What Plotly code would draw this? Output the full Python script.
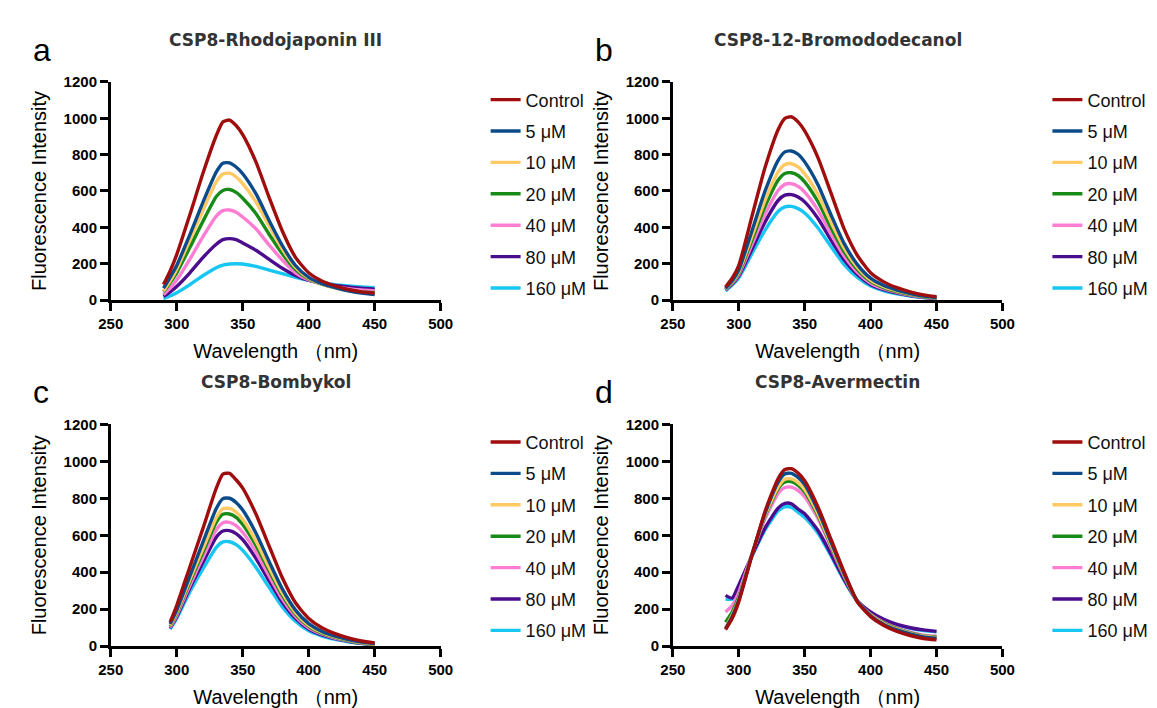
import plotly.graph_objects as go

# ---------------- data ----------------
series_names = ["Control", "5 μM", "10 μM", "20 μM", "40 μM", "80 μM", "160 μM"]
series_colors = ["#A00D0D", "#0B4B8A", "#FFC964", "#178A17", "#FF7ED4", "#4B0C8E", "#18C6F4"]

wavelength_abd = [290, 295, 300, 310, 320, 330, 335, 340, 345, 350, 360, 370, 380, 390, 400, 410, 420, 430, 440, 450]
wavelength_c = [295, 300, 310, 320, 330, 335, 340, 345, 350, 360, 370, 380, 390, 400, 410, 420, 430, 440, 450]

# Panel a: CSP8-Rhodojaponin III
a_control = [85, 160, 250, 470, 700, 905, 980, 990, 960, 910, 760, 565, 380, 235, 150, 105, 78, 58, 45, 38]
a_5uM = [65, 125, 190, 360, 540, 705, 753, 755, 732, 695, 585, 438, 300, 190, 125, 90, 68, 50, 38, 30]
a_10uM = [50, 105, 170, 330, 495, 650, 693, 698, 677, 640, 540, 408, 280, 180, 120, 88, 67, 52, 42, 35]
a_20uM = [45, 95, 150, 290, 435, 570, 603, 608, 592, 560, 476, 362, 255, 168, 115, 87, 68, 54, 45, 40]
a_40uM = [30, 65, 110, 225, 350, 462, 492, 495, 483, 457, 392, 303, 220, 150, 110, 88, 72, 62, 55, 50]
a_80uM = [20, 45, 75, 150, 235, 307, 332, 338, 332, 314, 274, 224, 175, 135, 108, 92, 80, 72, 65, 60]
a_160uM = [8, 22, 40, 85, 135, 178, 192, 198, 200, 198, 185, 165, 145, 125, 108, 95, 85, 78, 72, 68]

# Panel b: CSP8-12-Bromododecanol
b_control = [72, 120, 190, 460, 730, 940, 1000, 1008, 980, 930, 785, 588, 390, 245, 150, 100, 68, 45, 28, 18]
b_5uM = [65, 105, 165, 380, 600, 770, 815, 820, 802, 760, 636, 468, 310, 195, 120, 80, 55, 36, 22, 14]
b_10uM = [62, 100, 155, 350, 550, 705, 745, 750, 732, 695, 582, 428, 285, 180, 110, 73, 50, 33, 20, 12]
b_20uM = [60, 97, 148, 330, 515, 660, 696, 700, 685, 650, 542, 398, 265, 168, 103, 68, 46, 30, 18, 11]
b_40uM = [58, 93, 140, 305, 472, 604, 636, 640, 625, 594, 495, 363, 242, 153, 94, 62, 42, 27, 16, 10]
b_80uM = [56, 88, 132, 280, 430, 549, 577, 580, 567, 540, 450, 330, 220, 140, 86, 57, 38, 25, 15, 9]
b_160uM = [50, 82, 122, 255, 385, 488, 512, 515, 503, 479, 398, 294, 195, 124, 77, 51, 34, 22, 13, 8]

# Panel c: CSP8-Bombykol
c_control = [130, 220, 430, 640, 855, 930, 935, 900, 855, 715, 542, 370, 235, 150, 100, 68, 45, 28, 18]
c_5uM = [120, 195, 380, 565, 745, 798, 800, 777, 736, 612, 458, 310, 195, 122, 80, 54, 36, 22, 14]
c_10uM = [112, 185, 360, 530, 695, 743, 745, 725, 686, 569, 426, 288, 182, 113, 74, 50, 33, 20, 12]
c_20uM = [108, 178, 348, 510, 670, 713, 715, 697, 658, 545, 408, 275, 174, 108, 71, 48, 31, 19, 11]
c_40uM = [102, 168, 330, 482, 630, 668, 670, 652, 616, 509, 380, 256, 162, 100, 66, 44, 29, 17, 10]
c_80uM = [98, 160, 315, 455, 590, 623, 625, 609, 576, 475, 354, 238, 151, 93, 61, 41, 27, 16, 9]
c_160uM = [92, 150, 295, 420, 535, 564, 565, 549, 518, 427, 318, 213, 135, 83, 55, 37, 24, 14, 8]

# Panel d: CSP8-Avermectin
d_control = [90, 150, 240, 490, 730, 908, 955, 960, 936, 895, 755, 578, 400, 240, 160, 112, 80, 58, 42, 35]
d_5uM = [95, 160, 250, 495, 720, 888, 932, 935, 912, 874, 736, 563, 392, 242, 165, 118, 88, 66, 50, 43]
d_10uM = [100, 168, 255, 495, 710, 863, 903, 905, 885, 848, 718, 550, 386, 242, 168, 122, 92, 70, 54, 47]
d_20uM = [130, 185, 265, 495, 705, 853, 888, 890, 870, 834, 708, 543, 382, 242, 170, 125, 95, 72, 56, 50]
d_40uM = [185, 220, 290, 500, 690, 828, 858, 860, 842, 808, 692, 533, 376, 242, 172, 128, 98, 76, 60, 55]
d_80uM = [275, 260, 330, 490, 640, 748, 772, 770, 742, 716, 627, 498, 360, 245, 185, 145, 118, 100, 88, 80]
d_160uM = [255, 255, 325, 485, 630, 733, 754, 750, 725, 697, 612, 488, 355, 242, 182, 142, 115, 97, 85, 78]

panel_titles = ["CSP8-Rhodojaponin III", "CSP8-12-Bromododecanol", "CSP8-Bombykol", "CSP8-Avermectin"]
panel_letters = ["a", "b", "c", "d"]
x_ticks = [250, 300, 350, 400, 450, 500]
y_ticks = [0, 200, 400, 600, 800, 1000, 1200]

panels = [
    (wavelength_abd, [a_control, a_5uM, a_10uM, a_20uM, a_40uM, a_80uM, a_160uM]),
    (wavelength_abd, [b_control, b_5uM, b_10uM, b_20uM, b_40uM, b_80uM, b_160uM]),
    (wavelength_c, [c_control, c_5uM, c_10uM, c_20uM, c_40uM, c_80uM, c_160uM]),
    (wavelength_abd, [d_control, d_5uM, d_10uM, d_20uM, d_40uM, d_80uM, d_160uM]),
]

# ---------------- layout geometry (pixels) ----------------
W, H = 1157, 708
FONT = "Liberation Sans, Arial, sans-serif"
TITLE_FONT = "DejaVu Sans, Liberation Sans, Arial, sans-serif"
plot_x = [(91.8, 429.3), (666.8, 1004.0), (91.8, 429.3), (666.8, 1004.0)]
plot_y = [(66.5, 290.0), (66.5, 290.0), (417.3, 644.7), (417.3, 644.7)]

fig = go.Figure()

for p, (wl, ys) in enumerate(panels):
    ax = "" if p == 0 else str(p + 1)
    leg = "legend" if p == 0 else f"legend{p + 1}"
    # draw 160 µM first so Control ends up on top; legend order fixed by legendrank
    for i in reversed(range(len(series_names))):
        fig.add_trace(go.Scatter(
            x=wl, y=ys[i], mode="lines", name=series_names[i],
            line=dict(color=series_colors[i], width=3.4, shape="spline", smoothing=0.6),
            xaxis="x" + ax, yaxis="y" + ax, legend=leg,
            legendgroup=f"p{p}s{i}", legendrank=100 + i, showlegend=True,
        ))

layout = dict(
    width=W, height=H, margin=dict(l=0, r=0, t=0, b=0),
    paper_bgcolor="white", plot_bgcolor="white",
    font=dict(family=FONT, color="#111"),
    showlegend=True,
)

annotations = []
for p in range(4):
    ax = "" if p == 0 else str(p + 1)
    x0, x1 = plot_x[p]
    yt, yb = plot_y[p]
    layout["xaxis" + ax] = dict(
        domain=[x0 / W, x1 / W], anchor="y" + ax, range=[250, 500],
        tickvals=x_ticks, ticks="outside", ticklen=8, tickwidth=2.5, tickcolor="black",
        showline=True, linewidth=2.5, linecolor="black", showgrid=False, zeroline=False,
        tickfont=dict(family=FONT, size=15, color="black", weight="bold"),
        title=dict(text="Wavelength （nm)", font=dict(family=FONT, size=20, color="black"), standoff=14),
    )
    layout["yaxis" + ax] = dict(
        domain=[1 - yb / H, 1 - yt / H], anchor="x" + ax, range=[0, 1200],
        tickvals=y_ticks, ticks="outside", ticklen=8, tickwidth=2.5, tickcolor="black",
        showline=True, linewidth=2.5, linecolor="black", showgrid=False, zeroline=False,
        tickfont=dict(family=FONT, size=15, color="black", weight="bold"),
        title=dict(text="Fluorescence Intensity", font=dict(family=FONT, size=20, color="black"), standoff=12),
    )
    leg = "legend" if p == 0 else f"legend{p + 1}"
    layout[leg] = dict(
        x=(x1 + 46) / W, xanchor="left", y=1 - (yt - 0.5) / H, yanchor="top",
        traceorder="grouped", tracegroupgap=5, itemwidth=30,
        font=dict(family=FONT, size=18, color="#111"), bgcolor="rgba(0,0,0,0)",
    )
    annotations.append(dict(
        text=f"<b>{panel_titles[p]}</b>", x=(x0 + x1) / 2 / W, y=1 - (yt - 43) / H,
        xref="paper", yref="paper", xanchor="center", yanchor="middle", showarrow=False,
        font=dict(family=TITLE_FONT, size=17, color="#333"),
    ))
    annotations.append(dict(
        text=panel_letters[p], x=(x0 - 82) / W, y=1 - (yt - 33) / H,
        xref="paper", yref="paper", xanchor="left", yanchor="middle", showarrow=False,
        font=dict(family=FONT, size=32, color="black"),
    ))

layout["annotations"] = annotations
fig.update_layout(**layout)
fig.write_html("out.html")
